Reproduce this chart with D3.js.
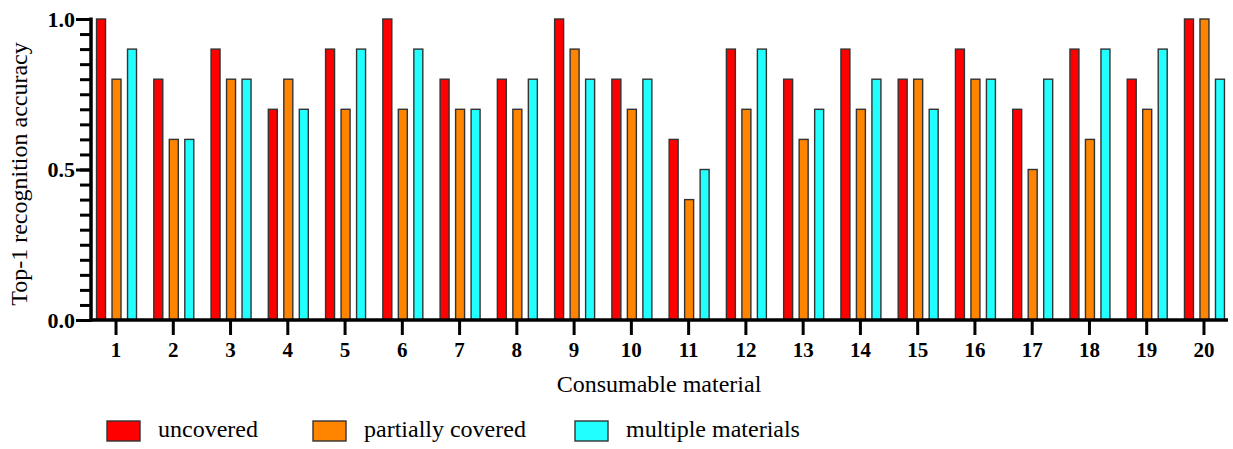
<!DOCTYPE html>
<html>
<head>
<meta charset="utf-8">
<script src="https://cdn.jsdelivr.net/npm/d3@7"></script>
<style>
  body { margin: 0; background: #fff; }
  svg { display: block; }
  svg text { font-family: "Liberation Serif", "Times New Roman", serif; }
</style>
</head>
<body>
<svg id="chart" width="1233" height="449"></svg>
<script>
var materials = d3.range(1, 21).map(String);
var seriesNames = ['uncovered', 'partially covered', 'multiple materials'];
var seriesColors = ['#ff0000', '#ff8400', '#22ffff'];
var uncovered = [1.0, 0.8, 0.9, 0.7, 0.9, 1.0, 0.8, 0.8, 1.0, 0.8, 0.6, 0.9, 0.8, 0.9, 0.8, 0.9, 0.7, 0.9, 0.8, 1.0];
var partiallyCovered = [0.8, 0.6, 0.8, 0.8, 0.7, 0.7, 0.7, 0.7, 0.9, 0.7, 0.4, 0.7, 0.6, 0.7, 0.8, 0.8, 0.5, 0.6, 0.7, 1.0];
var multipleMaterials = [0.9, 0.6, 0.8, 0.7, 0.9, 0.9, 0.7, 0.8, 0.8, 0.8, 0.5, 0.9, 0.7, 0.8, 0.7, 0.8, 0.8, 0.9, 0.9, 0.8];
var majorTicks = [0, 0.5, 1.0];
var minorTicks = d3.range(0, 21).map(function (i) { return i / 20; });

var seriesValues = [uncovered, partiallyCovered, multipleMaterials];

var svg = d3.select('#chart');

var x = d3.scaleBand().domain(materials).range([87.4, 1232.6]);
var xInner = d3.scaleBand().domain(seriesNames).range([-22.75, 23.75])
    .paddingInner(0.42).paddingOuter(0.21);
var y = d3.scaleLinear().domain([0, 1]).range([320, 19]);

// bars
var groups = svg.append('g').selectAll('g')
    .data(materials)
    .enter().append('g')
    .attr('transform', function (d) { return 'translate(' + (x(d) + x.bandwidth() / 2) + ',0)'; });

groups.selectAll('rect')
    .data(function (d, i) {
        return seriesNames.map(function (s, k) {
            return { series: s, color: seriesColors[k], value: seriesValues[k][i] };
        });
    })
    .enter().append('rect')
    .attr('x', function (d) { return xInner(d.series); })
    .attr('width', xInner.bandwidth())
    .attr('y', function (d) { return y(d.value); })
    .attr('height', function (d) { return y(0) - y(d.value); })
    .attr('fill', function (d) { return d.color; })
    .attr('stroke', '#333')
    .attr('stroke-width', 1.4);

function styleAxis(g, size) {
    g.attr('font-family', null).attr('font-size', null);
    g.select('.domain').remove();
    g.selectAll('.tick line').attr('stroke', '#000').attr('stroke-width', 3);
    g.selectAll('.tick text')
        .attr('fill', '#000')
        .style('font-size', size)
        .style('font-weight', 'bold');
}

// y axis: minor ticks
svg.append('g')
    .attr('transform', 'translate(91,0)')
    .call(d3.axisLeft(y).tickValues(minorTicks).tickSize(11).tickFormat(function () { return ''; }))
    .call(styleAxis, '22px');

// y axis: major ticks + labels
svg.append('g')
    .attr('transform', 'translate(91,0)')
    .call(d3.axisLeft(y).tickValues(majorTicks).tickSize(15).tickPadding(1).tickFormat(d3.format('.1f')))
    .call(styleAxis, '22px');

svg.append('line')
    .attr('x1', 91).attr('x2', 91)
    .attr('y1', y(1) - 1.5).attr('y2', y(0) + 1.5)
    .attr('stroke', '#000').attr('stroke-width', 3.5);

// x axis
svg.append('g')
    .attr('transform', 'translate(0,' + y(0) + ')')
    .call(d3.axisBottom(x).tickSize(15).tickPadding(7).tickSizeOuter(0))
    .call(styleAxis, '21px');

svg.append('line')
    .attr('x1', 89.5).attr('x2', 1228)
    .attr('y1', y(0)).attr('y2', y(0))
    .attr('stroke', '#000').attr('stroke-width', 3.5);

// titles
svg.append('text')
    .attr('transform', 'translate(27,174) rotate(-90)')
    .attr('text-anchor', 'middle')
    .style('font-size', '24px')
    .text('Top-1 recognition accuracy');

svg.append('text')
    .attr('x', 659).attr('y', 392)
    .attr('text-anchor', 'middle')
    .style('font-size', '24px')
    .text('Consumable material');

// legend
var legendX = [107, 313, 575];
var legend = svg.append('g').selectAll('g')
    .data(seriesNames)
    .enter().append('g')
    .attr('transform', function (d, i) { return 'translate(' + legendX[i] + ',421)'; });

legend.append('rect')
    .attr('width', 33).attr('height', 20)
    .attr('fill', function (d, i) { return seriesColors[i]; })
    .attr('stroke', '#333')
    .attr('stroke-width', 1.4);

legend.append('text')
    .attr('x', 51).attr('y', 16)
    .style('font-size', '24px')
    .text(function (d) { return d; });
</script>
</body>
</html>
